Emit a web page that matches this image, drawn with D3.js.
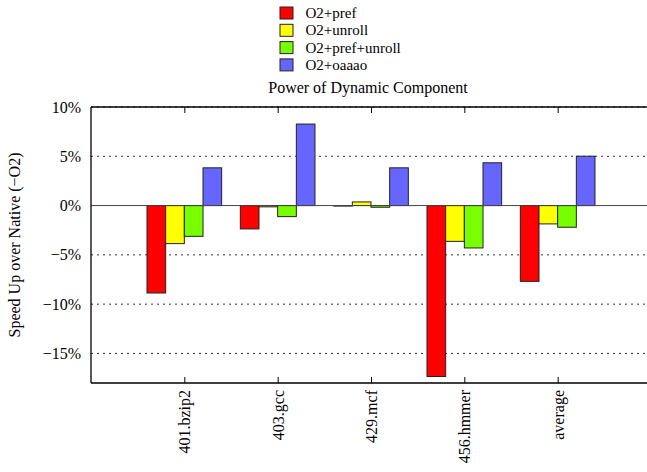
<!DOCTYPE html>
<html>
<head>
<meta charset="utf-8">
<script src="https://d3js.org/d3.v7.min.js"></script>
<style>
  body { margin: 0; background: #fff; }
  svg text { font-family: "Liberation Serif", "Times New Roman", Times, "DejaVu Serif", serif !important; fill: #000; }
</style>
</head>
<body>
<div id="chart"></div>
<script>
var categories = ["401.bzip2", "403.gcc", "429.mcf", "456.hmmer", "average"];
var seriesNames = ["O2+pref", "O2+unroll", "O2+pref+unroll", "O2+oaaao"];
var seriesColors = ["#ff0000", "#ffff00", "#77ff00", "#6666ff"];
var prefValues = [-8.87, -2.37, -0.05, -17.34, -7.69];
var unrollValues = [-3.86, -0.13, 0.37, -3.63, -1.86];
var prefUnrollValues = [-3.12, -1.12, -0.17, -4.3, -2.2];
var oaaaoValues = [3.83, 8.27, 3.83, 4.34, 5.01];
var yTicks = [-15, -10, -5, 0, 5, 10];

var series = [prefValues, unrollValues, prefUnrollValues, oaaaoValues];

var width = 647, height = 472;
var plot = { left: 91, right: 651, top: 107, bottom: 383 };

var svg = d3.select("#chart").append("svg")
    .attr("width", width)
    .attr("height", height);

var x = d3.scaleLinear().domain([-1, categories.length]).range([plot.left, plot.right]);
var y = d3.scaleLinear().domain([-18, 10]).range([plot.bottom, plot.top]);
var step = x(1) - x(0);
var barW = step / 5;

// grid lines
svg.append("g").selectAll("line")
    .data(yTicks.filter(function(d) { return d !== 0; }))
    .enter().append("line")
    .attr("x1", plot.left).attr("x2", plot.right)
    .attr("y1", function(d) { return y(d); })
    .attr("y2", function(d) { return y(d); })
    .style("stroke", "#333")
    .style("stroke-width", 1)
    .style("stroke-dasharray", "2,4");

// bars
series.forEach(function(vals, si) {
    svg.append("g").selectAll("rect")
        .data(vals)
        .enter().append("rect")
        .attr("x", function(d, i) { return x(i) - 2 * barW + si * barW; })
        .attr("y", function(d) { return y(Math.max(0, d)); })
        .attr("width", barW)
        .attr("height", function(d) { return Math.abs(y(d) - y(0)); })
        .style("fill", seriesColors[si])
        .style("stroke", "#222")
        .style("stroke-width", 1);
});

// zero line
svg.append("line")
    .attr("x1", plot.left).attr("x2", plot.right)
    .attr("y1", y(0)).attr("y2", y(0))
    .style("stroke", "#444").style("stroke-width", 1);

// frame
svg.append("line").attr("x1", plot.left).attr("x2", plot.right)
    .attr("y1", plot.top).attr("y2", plot.top).style("stroke", "#000").style("stroke-width", 1.3);
svg.append("line").attr("x1", plot.left).attr("x2", plot.right)
    .attr("y1", plot.bottom).attr("y2", plot.bottom).style("stroke", "#000").style("stroke-width", 1.3);
svg.append("line").attr("x1", plot.left).attr("x2", plot.left)
    .attr("y1", plot.top).attr("y2", plot.bottom).style("stroke", "#000").style("stroke-width", 1.3);

// x axis (bottom ticks pointing inward, labels rotated)
var xAxis = d3.axisBottom(x)
    .tickValues(d3.range(categories.length))
    .tickFormat(function(d) { return categories[d]; })
    .tickSizeInner(-6).tickSizeOuter(0);
var gx = svg.append("g").attr("transform", "translate(0," + plot.bottom + ")").call(xAxis);
gx.select(".domain").remove();
gx.selectAll(".tick line").style("stroke", "#000");
gx.selectAll(".tick text")
    .attr("transform", "rotate(-90)")
    .attr("x", -7).attr("y", 0).attr("dy", "0.35em")
    .style("text-anchor", "end")
    .style("font-size", "16px");

// top mirrored ticks
var xTop = d3.axisTop(x)
    .tickValues(d3.range(categories.length))
    .tickFormat("")
    .tickSizeInner(-6).tickSizeOuter(0);
var gt = svg.append("g").attr("transform", "translate(0," + plot.top + ")").call(xTop);
gt.select(".domain").remove();

// y axis labels
var yAxis = d3.axisLeft(y).tickValues(yTicks)
    .tickFormat(function(d) { return (d < 0 ? "\u2212" + (-d) : d) + "%"; })
    .tickSize(0);
var gy = svg.append("g").attr("transform", "translate(" + plot.left + ",0)").call(yAxis);
gy.select(".domain").remove();
gy.selectAll(".tick text")
    .attr("x", -10)
    .style("font-size", "16px");

// y title
svg.append("text")
    .attr("transform", "translate(20," + (plot.top + plot.bottom) / 2 + ") rotate(-90)")
    .attr("text-anchor", "middle")
    .style("font-size", "16px")
    .text("Speed Up over Native (\u2212O2)");

// chart title
svg.append("text")
    .attr("x", 368).attr("y", 93)
    .attr("text-anchor", "middle")
    .style("font-size", "16px")
    .text("Power of Dynamic Component");

// legend
var legend = svg.append("g").attr("transform", "translate(280,7)");
seriesNames.forEach(function(name, i) {
    var g = legend.append("g").attr("transform", "translate(0," + i * 17.3 + ")");
    g.append("rect").attr("width", 13).attr("height", 12)
        .style("fill", seriesColors[i]).style("stroke", "#222").style("stroke-width", 1);
    g.append("text").attr("x", 25.5).attr("y", 11)
        .style("font-size", "15px")
        .text(name);
});
</script>
</body>
</html>
